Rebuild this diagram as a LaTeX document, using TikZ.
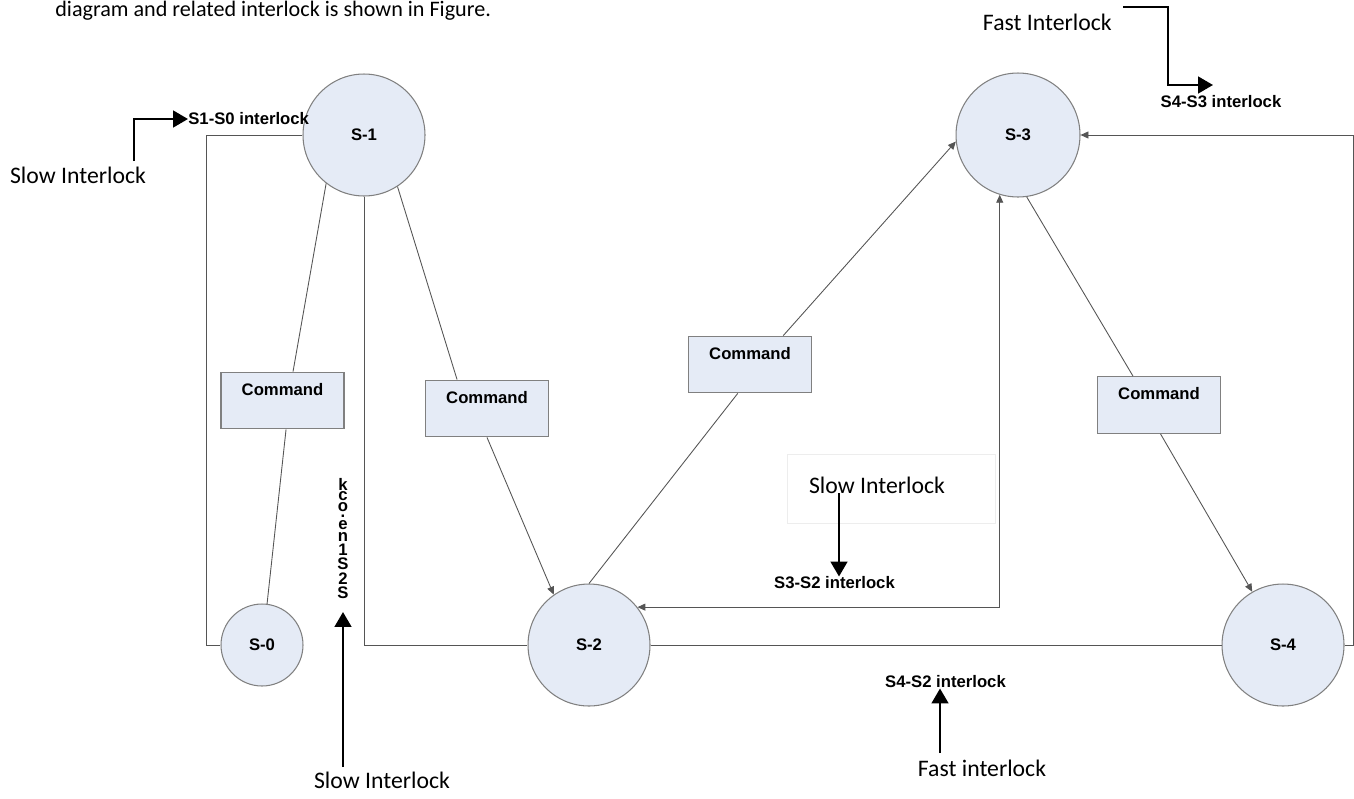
\documentclass[tikz,border=0pt]{standalone}
\usepackage{fontspec}
\setmainfont{Carlito}
\setsansfont{Liberation Sans}
\usetikzlibrary{arrows.meta}
\definecolor{statefill}{HTML}{E5EBF6}
\definecolor{stateline}{HTML}{808080}
\definecolor{wireline}{HTML}{555555}
\tikzset{
  state/.style={circle,draw=stateline,fill=statefill,line width=0.6pt,inner sep=0pt,
    minimum size=2.44cm,font=\sffamily\bfseries\fontsize{9.5}{11}\selectfont},
  cmdbox/.style={rectangle,draw=stateline,fill=statefill,line width=0.6pt,
    minimum width=2.46cm,inner xsep=0pt,inner ysep=3pt,text height=10.1pt,text depth=16.2pt,
    font=\sffamily\bfseries\fontsize{9.5}{11}\selectfont},
  wire/.style={draw=wireline,line width=0.5pt},
  wirearrow/.style={wire,-{Triangle[length=4.5pt,width=4pt]}},
  cue/.style={line width=1.4pt,-{Triangle[length=8.5pt,width=9.5pt]}},
  lock/.style={inner sep=0pt,font=\sffamily\bfseries\fontsize{9.5}{11}\selectfont},
  note/.style={inner sep=0pt,font=\fontsize{13.5}{16}\selectfont}
}
\begin{document}
\begin{tikzpicture}[x=0.02cm,y=-0.02cm]
    \useasboundingbox (0,0) rectangle (1354,798);

    % Caption line cut from the page above
    \node[note,anchor=base west,font=\fontsize{12.6}{15}\selectfont] (intro) at (55,16.5) {diagram and related interlock is shown in Figure.};

    % States
    \node[state] (s1) at (364,135) {S-1};
    \node[state,minimum size=1.64cm] (s0) at (262,645) {S-0};
    \node[state] (s2) at (589,645) {S-2};
    \node[state,minimum size=2.48cm] (s3) at (1018,135) {S-3};
    \node[state] (s4) at (1283,645) {S-4};

    % Command boxes
    \node[cmdbox] (cmd1) at (282.5,400.5) {Command};
    \node[cmdbox] (cmd2) at (487,408.5) {Command};
    \node[cmdbox] (cmd3) at (750,364.5) {Command};
    \node[cmdbox] (cmd4) at (1159,405) {Command};

    % Transitions through the commands
    \draw[wire] (s1.232) -- (cmd1.70);
    \draw[wire] (cmd1.277) -- (s0.83);
    \draw[wire] (s1.303) -- (cmd2.136);
    \draw[wirearrow] (cmd2.south) -- (s2.125);
    \draw[wire] (s2.north) -- (cmd3.247);
    \draw[wirearrow] (cmd3.41) -- (s3.186);
    \draw[wire] (s3.278) -- (cmd4.132);
    \draw[wirearrow] (cmd4.273) -- (s4.120);

    % Interlock paths
    \draw[wire] (s1.west) -- ++(-96,0) |- (s0.west);
    \draw[wire] (s1.south) |- (s2.west);
    \draw[wire] (s2) -- (s4);
    \draw[wirearrow] (s4.east) -- ++(9,0) |- (s3.east);
    \draw[wire,{Triangle[length=4.5pt,width=4pt]}-{Triangle[length=4.5pt,width=4pt]}] (s3.253) |- (s2.38);

    % S1-S0 interlock (slow)
    \node[note] (slowtl) at (78,175) {Slow Interlock};
    \node[lock,anchor=west] (lockS1S0) at (188,119) {S1-S0 interlock};
    \coordinate (cueA) at (134,161);
    \draw[cue] (cueA) |- (lockS1S0.west);

    % S4-S3 interlock (fast)
    \node[note,anchor=east] (fasttr) at (1112,22) {Fast Interlock};
    \node[lock] (lockS4S3) at (1221,102) {S4-S3 interlock};
    \coordinate (cueB) at (1123,7);
    \draw[cue] (cueB) -| ++(45,78) -- ++(45,0);

    % S3-S2 interlock (slow)
    \node[draw=black!7,minimum width=4.16cm,minimum height=1.38cm] (slowbox) at (891,488.5) {};
    \node[note] (slowmid) at (877,485) {Slow Interlock};
    \node[lock] (lockS3S2) at (834.5,583) {S3-S2 interlock};
    \coordinate (cueC) at (839,493);
    \draw[cue] (cueC) -- (cueC |- lockS3S2.north);

    % S4-S2 interlock (fast)
    \node[lock] (lockS4S2) at (945.5,682) {S4-S2 interlock};
    \node[note] (fastbm) at (982,768) {Fast interlock};
    \coordinate (cueD) at (940,753);
    \draw[cue] (cueD) -- (cueD |- lockS4S2.south);

    % S2-S1 interlock (slow), letters piled up
    \foreach \ch/\yy [count=\i] in {k/484,c/496,o/507,./516,e/525,n/537,1/550,S/564,2/579,S/593}
        \node[lock] (lockS2S1\i) at (343,\yy) {\ch};
    \node[note] (slowbl) at (382,780) {Slow Interlock};
    \coordinate (cueE) at (343,767);
    \draw[cue] (cueE) -- (343,612);
\end{tikzpicture}
\end{document}
